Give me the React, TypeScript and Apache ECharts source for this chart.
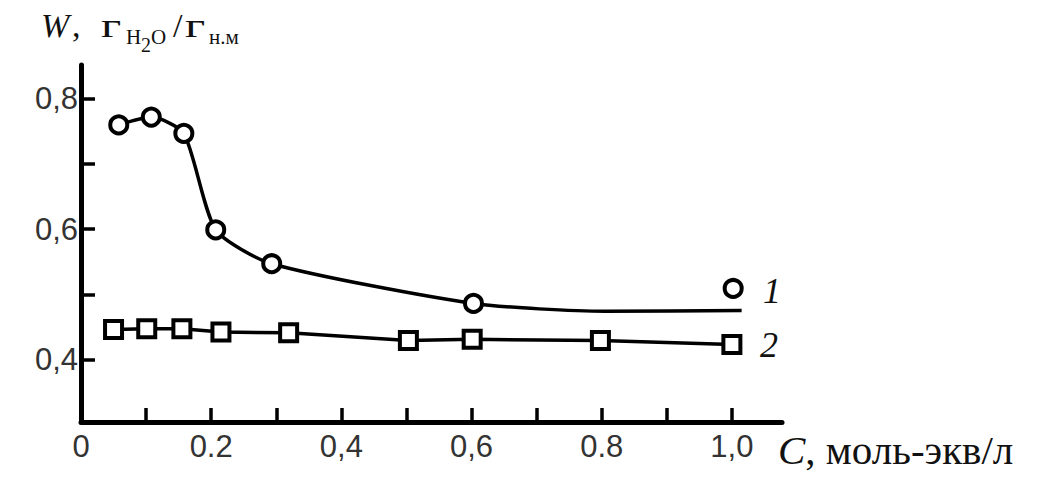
import React, { useEffect, useRef } from "react";
import * as echarts from "echarts";

// Series 1 (circles): measured points
const s1X = [0.058, 0.108, 0.158, 0.207, 0.293, 0.603, 1.002];
const s1Y = [0.76, 0.772, 0.747, 0.599, 0.547, 0.486, 0.509];
// Series 1 fitted curve (passes through first six points, then levels off)
const curve1X = [0.058, 0.108, 0.158, 0.207, 0.293, 0.603, 0.805, 1.015];
const curve1Y = [0.76, 0.772, 0.747, 0.599, 0.547, 0.486, 0.474, 0.475];
// Series 2 (squares)
const s2X = [0.05, 0.101, 0.155, 0.215, 0.319, 0.503, 0.601, 0.798, 1.0];
const s2Y = [0.446, 0.447, 0.447, 0.442, 0.441, 0.429, 0.431, 0.429, 0.423];

// Axis ticks / labels
const xTickValues = [0.1, 0.2, 0.3, 0.4, 0.5, 0.6, 0.7, 0.8, 0.9, 1.0];
const xLabelValues = [0, 0.2, 0.4, 0.6, 0.8, 1.0];
const xLabelTexts = ["0", "0.2", "0,4", "0,6", "0.8", "1,0"];
const yTickValues = [0.4, 0.5, 0.6, 0.7, 0.8];
const yLabelValues = [0.4, 0.6, 0.8];
const yLabelTexts = ["0,4", "0,6", "0,8"];

const seriesLabels = ["1", "2"];

const SERIF = '"Liberation Serif", "Times New Roman", serif';
const SANS = '"Liberation Sans", Arial, sans-serif';

function pickLabel(values: number[], texts: string[], v: number) {
  let best = -1;
  let bd = Infinity;
  values.forEach((x, i) => {
    const d = Math.abs(x - v);
    if (d < bd) {
      bd = d;
      best = i;
    }
  });
  return bd < 1e-6 ? texts[best] : "";
}

function txt(
  text: string,
  x: number,
  baseline: number,
  size: number,
  italic = false,
  scaleX = 1
) {
  return {
    type: "text",
    x,
    y: baseline - 0.34 * size,
    scaleX,
    style: {
      text,
      font: `${italic ? "italic " : ""}${size}px ${SERIF}`,
      fill: "#111",
      align: "left",
      verticalAlign: "middle",
    },
  };
}

export default function App() {
  const ref = useRef<HTMLDivElement>(null);
  useEffect(() => {
    if (!ref.current) return;
    const chart = echarts.init(ref.current, undefined, { renderer: "svg" });
    const axisColor = "#000";
    chart.setOption({
      animation: false,
      backgroundColor: "#fff",
      grid: { left: 81, right: 261, top: 65, bottom: 62, outerBoundsMode: "none" },
      xAxis: {
        type: "value",
        min: 0,
        max: 1.077,
        name: "{i|C}, моль-экв/л",
        nameLocation: "end",
        nameGap: -4,
        nameMoveOverlap: false,
        nameTextStyle: {
          fontFamily: SERIF,
          fontSize: 41,
          color: "#111",
          align: "left",
          verticalAlign: "top",
          padding: [7, 0, 0, 0],
          rich: {
            i: { fontStyle: "italic", fontSize: 41, fontFamily: SERIF, color: "#111" },
          },
        },
        axisLine: { show: true, lineStyle: { color: axisColor, width: 5 } },
        axisTick: {
          show: true,
          inside: true,
          length: 14,
          lineStyle: { color: axisColor, width: 3.5 },
          customValues: xTickValues,
        },
        axisLabel: {
          show: true,
          margin: 9,
          fontSize: 31,
          fontFamily: SANS,
          color: "#333",
          customValues: xLabelValues,
          formatter: (v: number) => pickLabel(xLabelValues, xLabelTexts, v),
        },
        splitLine: { show: false },
      },
      yAxis: {
        type: "value",
        min: 0.304,
        max: 0.852,
        axisLine: { show: true, lineStyle: { color: axisColor, width: 5 } },
        axisTick: {
          show: true,
          inside: true,
          length: 14,
          lineStyle: { color: axisColor, width: 3.5 },
          customValues: yTickValues,
        },
        axisLabel: {
          show: true,
          margin: 3,
          fontSize: 31,
          fontFamily: SANS,
          color: "#333",
          customValues: yLabelValues,
          formatter: (v: number) => pickLabel(yLabelValues, yLabelTexts, v),
        },
        splitLine: { show: false },
      },
      series: [
        {
          type: "line",
          name: "curve1",
          data: curve1X.map((x, i) => [x, curve1Y[i]]),
          smooth: 0.22,
          showSymbol: false,
          symbol: "none",
          lineStyle: { color: "#000", width: 3.5 },
          z: 2,
        },
        {
          type: "scatter",
          name: "points1",
          data: s1X.map((x, i) => [x, s1Y[i]]),
          symbol: "circle",
          symbolSize: 17,
          itemStyle: { color: "#fff", borderColor: "#000", borderWidth: 4, opacity: 1 },
          z: 5,
        },
        {
          type: "line",
          name: "series2",
          data: s2X.map((x, i) => [x, s2Y[i]]),
          symbol: "rect",
          symbolSize: 17,
          showAllSymbol: true,
          lineStyle: { color: "#000", width: 3.5 },
          itemStyle: { color: "#fff", borderColor: "#000", borderWidth: 4, opacity: 1 },
          z: 4,
        },
      ],
      graphic: [
        // y-axis title: W, г(H2O)/г(н.м)
        txt("W", 41, 37, 34, true),
        txt(",", 72, 37, 34),
        txt("г", 101, 37, 34, false, 1.45),
        txt("H", 126, 44, 21),
        txt("2", 141, 51.5, 20),
        txt("O", 151, 44, 21),
        txt("/", 173, 37, 34),
        txt("г", 185, 37, 34, false, 1.45),
        txt("н.м", 209, 44, 21),
        // series labels
        txt(seriesLabels[0], 763, 303, 36, true),
        txt(seriesLabels[1], 760, 357, 36, true),
      ],
    });
    return () => chart.dispose();
  }, []);
  return (
    <div
      ref={ref}
      style={{ position: "absolute", left: 0, top: 0, width: 1043, height: 484 }}
    />
  );
}
